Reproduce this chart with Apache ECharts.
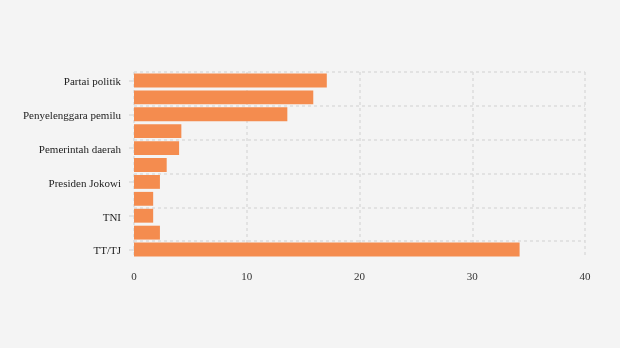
<!DOCTYPE html>
<html>
<head>
<meta charset="utf-8">
<script src="https://cdn.jsdelivr.net/npm/echarts@6/dist/echarts.min.js"></script>
<style>
  html, body { margin: 0; padding: 0; background: #f4f4f4; }
  #chart { width: 620px; height: 348px; }
</style>
</head>
<body>
<div id="chart"></div>
<script>
// Categories, top to bottom (only every other one gets a label)
const categories = [
  'Partai politik', 'Calon legislatif', 'Penyelenggara pemilu', 'Polri',
  'Pemerintah daerah', 'DPR', 'Presiden Jokowi', 'Pengusaha', 'TNI',
  'Lainnya', 'TT/TJ'
];
// Percentage values per category
const values = [17.1, 15.9, 13.6, 4.2, 4.0, 2.9, 2.3, 1.7, 1.7, 2.3, 34.2];
// Value-axis ticks
const xTicks = [0, 10, 20, 30, 40];

const chart = echarts.init(document.getElementById('chart'));
const fontFamily = '"Liberation Serif", "DejaVu Serif", serif';
const gridColor = '#dcdcdc';

chart.setOption({
  backgroundColor: '#f4f4f4',
  animation: false,
  grid: { left: 134, right: 35, top: 72, bottom: 90 },
  xAxis: {
    type: 'value',
    min: xTicks[0],
    max: xTicks[xTicks.length - 1],
    interval: xTicks[1] - xTicks[0],
    axisLine: { show: false },
    axisTick: { show: false },
    axisLabel: { color: '#333', fontFamily, fontSize: 11, margin: 14 },
    splitLine: { show: true, lineStyle: { color: gridColor, type: [3, 3], width: 1.5 } }
  },
  yAxis: {
    type: 'category',
    inverse: true,
    data: categories,
    axisLine: { show: false },
    axisTick: { show: true, interval: 1, alignWithLabel: true, length: 5, lineStyle: { color: gridColor, width: 1.5 } },
    axisLabel: {
      interval: 1, color: '#222', fontFamily, fontSize: 11, margin: 13,
      verticalAlign: 'top', lineHeight: 4
    },
    splitLine: {
      show: true,
      interval: 1,
      showMaxLine: false,
      lineStyle: { color: gridColor, type: [3, 3], width: 1.5 }
    }
  },
  series: [{
    type: 'bar',
    data: values,
    barCategoryGap: '18%',
    itemStyle: { color: '#f48c4f' }
  }]
});
</script>
</body>
</html>
